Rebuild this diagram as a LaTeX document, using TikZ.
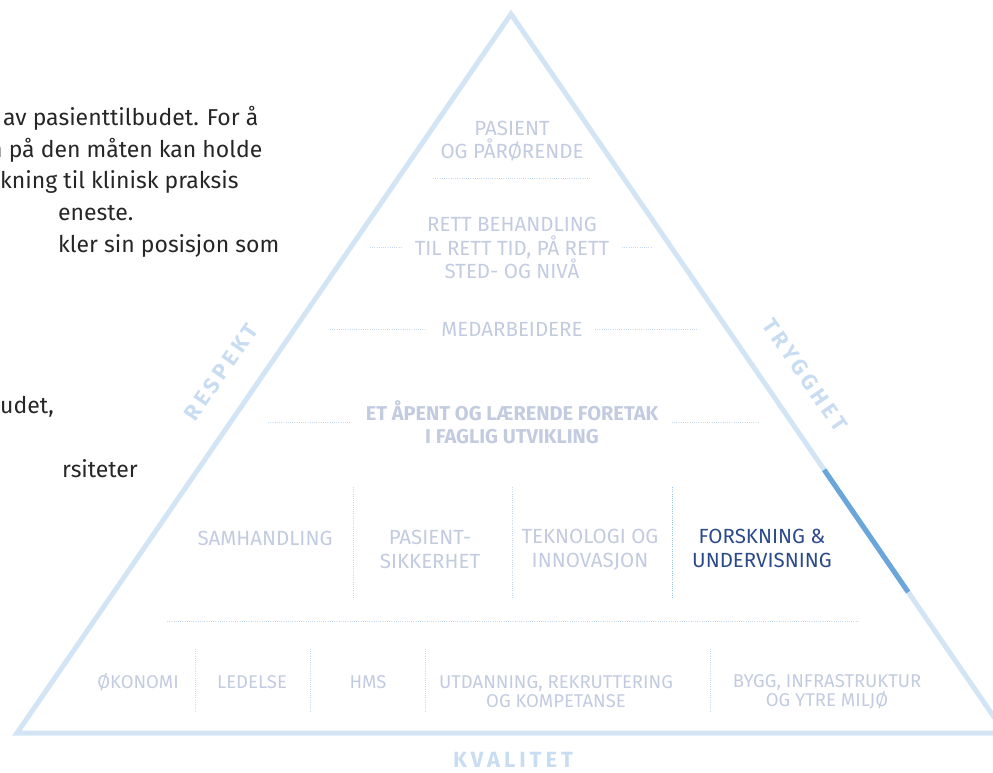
\documentclass[tikz,border=0pt]{standalone}
\usepackage{fontspec}
\setmainfont{Fira Sans}
\newfontfamily\spacedfont[LetterSpace=18]{Fira Sans}
\usetikzlibrary{calc}

\definecolor{sideblue}{HTML}{D3E5F5}
\definecolor{markblue}{HTML}{6AA6DA}
\definecolor{itemgrey}{HTML}{C2CBDF}
\definecolor{valueblue}{HTML}{C8DDF2}
\definecolor{navy}{HTML}{2C4A8B}
\definecolor{sepblue}{HTML}{C6DBEF}

\tikzset{
  side/.style={draw=sideblue, line width=5pt, line join=miter},
  markline/.style={draw=markblue, line width=5pt},
  item/.style={text=itemgrey, inner sep=0pt, align=center, font=\fontsize{20.5}{23.5}\selectfont},
  smallitem/.style={item, font=\fontsize{18.5}{19}\selectfont},
  value/.style={text=valueblue, inner sep=0pt, font=\spacedfont\bfseries\fontsize{22}{24}\selectfont},
  sep/.style={draw=sepblue, line width=0.8pt, dash pattern=on 0.8pt off 1.4pt},
  body/.style={anchor=base west, inner sep=0pt, text=black!85, font=\fontsize{23}{32}\selectfont},
}

\begin{document}
\begin{tikzpicture}[x=1pt,y=-1pt]
\useasboundingbox (0,0) rectangle (993,772);
% page text, cut at the left edge
\node[body] (line1) at (3,125) {av pasienttilbudet. For å};
\node[body] (line2) at (-11,157) {n på den måten kan holde};
\node[body] (line3) at (0,188) {kning til klinisk praksis};
\node[body] (line4) at (58,220) {eneste.};
\node[body] (line5) at (58,252) {kler sin posisjon som};
\node[body] (line6) at (0,413) {udet,};
\node[body] (line7) at (62,477) {rsiteter};

% pyramid
\coordinate (top) at (511,14);
\coordinate (left) at (17,733);
\coordinate (right) at (1005,733);
\draw[side] (left) -- (top) -- (right) -- cycle;
\draw[markline] ($(top)!0.634!(right)$) -- ($(top)!0.804!(right)$);

% values along the sides
\node[value, rotate=55.5] (respekt) at (221,372) {RESPEKT};
\node[value, rotate=-55.5] (trygghet) at (805,375) {TRYGGHET};
\node[value] (kvalitet) at (513,760) {KVALITET};

% levels
\node[item] (pasient) at (512,141) {PASIENT\\OG PÅRØRENDE};
\node[item] (behandling) at (512,248) {RETT BEHANDLING\\TIL RETT TID, PÅ RETT\\STED- OG NIVÅ};
\node[item] (medarbeidere) at (512,329) {MEDARBEIDERE};
\node[item, font=\bfseries\fontsize{20}{23.5}\selectfont] (foretak) at (512,422) {ET ÅPENT OG LÆRENDE FORETAK\\I FAGLIG UTVIKLING};

\node[item] (samhandling) at (265,538) {SAMHANDLING};
\node[item] (sikkerhet) at (430,549.5) {PASIENT-\\SIKKERHET};
\node[item] (teknologi) at (590,549.5) {TEKNOLOGI OG\\INNOVASJON};
\node[item, text=navy] (forskning) at (762,548.5) {FORSKNING \&\\UNDERVISNING};

\node[smallitem] (okonomi) at (138,682) {ØKONOMI};
\node[smallitem] (ledelse) at (252,682) {LEDELSE};
\node[smallitem] (hms) at (368,682) {HMS};
\node[smallitem] (utdanning) at (556,691.5) {UTDANNING, REKRUTTERING\\OG KOMPETANSE};
\node[smallitem] (bygg) at (827,691.5) {BYGG, INFRASTRUKTUR\\OG YTRE MILJØ};

% dotted separators
\draw[sep] (433,178) -- (591,178);
\draw[sep] (370,247) -- (402,247);
\draw[sep] (622,247) -- (652,247);
\draw[sep] (330,329) -- (425,329);
\draw[sep] (595,329) -- (698,329);
\draw[sep] (268,422) -- (350,422);
\draw[sep] (672,422) -- (760,422);
\foreach \x in {353,512}
  \draw[sep] (\x,487) -- (\x,598);
\draw[sep, draw=markblue!70] (672,487) -- (672,598);
\draw[sep] (167,621) -- (858,621);
\foreach \x in {195,310,425,710}
  \draw[sep] (\x,649) -- (\x,712);
\end{tikzpicture}
\end{document}
